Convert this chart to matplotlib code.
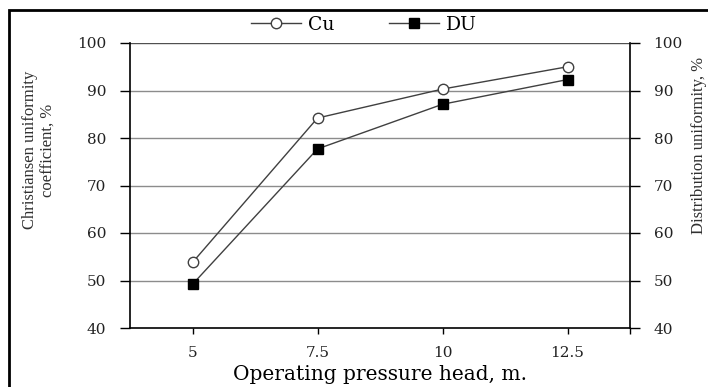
import matplotlib
matplotlib.use("Agg")
import matplotlib.pyplot as plt
from matplotlib.patches import Rectangle

categories = ["5", "7.5", "10", "12.5"]
cu_values = [53.8, 84.2, 90.3, 95.0]
du_values = [49.2, 77.7, 87.1, 92.3]
y_ticks = [40, 50, 60, 70, 80, 90, 100]

plt.rcParams['font.family'] = ['Liberation Serif', 'DejaVu Serif']
tickfont = "DejaVu Serif"

W, H = 708, 387
fig = plt.figure(figsize=(W / 100, H / 100), dpi=100)
ax = fig.add_axes([130 / W, 1 - 328 / H, 500 / W, 285 / H])

x = list(range(len(categories)))
ax.plot(x, cu_values, color="#404040", lw=1.0, marker="o", ms=7.5,
        mfc="white", mec="#404040", mew=1.0, label="Cu", zorder=3)
ax.plot(x, du_values, color="#404040", lw=1.0, marker="s", ms=6.5,
        mfc="black", mec="black", label="DU", zorder=3)

ax.set_xlim(-0.5, len(categories) - 0.5)
ax.set_ylim(40, 100)
ax.set_yticks(y_ticks)
ax.set_xticks(x)
ax.set_xticklabels(categories, fontfamily=tickfont)
ax.set_yticklabels([str(v) for v in y_ticks], fontfamily=tickfont)
ax.set_xticks([len(categories) - 0.5], minor=True)
ax.tick_params(axis="x", which="both", direction="out", length=4, width=1,
               color="black", labelsize=11, pad=9, labelcolor="#222222")
ax.tick_params(axis="y", direction="out", length=7, width=1, color="black",
               labelsize=11, pad=10, labelcolor="#222222")
for yv in y_ticks[1:]:
    ax.axhline(yv, color="#8c8c8c" if yv < 100 else "#505050", lw=1.0, zorder=1)

ax.spines["top"].set_visible(False)
ax.spines["right"].set_visible(False)
ax.spines["left"].set_linewidth(1.2)
ax.spines["bottom"].set_linewidth(1.2)

ax2 = ax.twinx()
ax2.set_ylim(40, 100)
ax2.set_yticks(y_ticks)
ax2.set_yticklabels([str(v) for v in y_ticks], fontfamily=tickfont)
ax2.tick_params(axis="y", direction="out", length=7, width=1, color="black",
                labelsize=11, pad=10, labelcolor="#222222")
for s in ["top", "left", "bottom"]:
    ax2.spines[s].set_visible(False)
ax2.spines["right"].set_linewidth(1.2)

fig.text(39 / W, 1 - 150 / H, "Christiansen uniformity\ncoefficient, %",
         rotation=90, ha="center", va="center", fontsize=12,
         color="#303030", linespacing=1.25)
fig.text(699 / W, 1 - 145 / H, "Distribution uniformity, %",
         rotation=90, ha="center", va="center", fontsize=12, color="#303030")
fig.text(380 / W, 1 - 375 / H, "Operating pressure head, m.",
         ha="center", va="center", fontsize=14.5, color="black",
         fontfamily="DejaVu Serif")

leg = ax.legend(loc="center", bbox_to_anchor=(364 / W, 1 - 25 / H),
                bbox_transform=fig.transFigure, ncol=2, frameon=False,
                prop={"family": "DejaVu Serif", "size": 13.5},
                handlelength=2.67, handletextpad=0.37,
                columnspacing=2.9, borderpad=0.1)

fig.patches.append(Rectangle((9 / W, -0.1), 1.2, 1 - 10 / H + 0.1,
                             transform=fig.transFigure, fill=False,
                             edgecolor="black", lw=2.0, zorder=10))

fig.savefig("out.png", dpi=100)
